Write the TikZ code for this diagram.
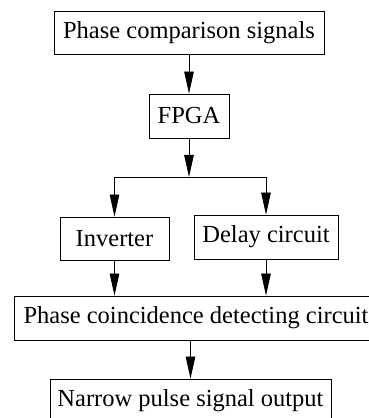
\documentclass[tikz,border=0pt]{standalone}
\usepackage{fontspec}
\setmainfont{Liberation Serif}
\usepackage{tikz}
\usetikzlibrary{arrows.meta}

\begin{document}
\begin{tikzpicture}[x=1pt,y=1pt,
    block/.style={draw,line width=0.8pt,inner sep=0pt,
      font=\fontsize{24.5}{28}\selectfont},
    flow/.style={line width=0.8pt,-{Triangle[length=22pt,width=9.5pt]}}]
  \useasboundingbox (0,0) rectangle (369,418);
  \node[block,minimum width=270,minimum height=43] (sig)
    at (189,385.5) {Phase comparison signals};
  \node[block,minimum width=80,minimum height=44] (fpga)
    at (189,302) {FPGA};
  \node[block,minimum width=109,minimum height=43] (inv)
    at (114.5,179.5) {Inverter};
  \node[block,minimum width=144,minimum height=44] (delay)
    at (266,181) {Delay circuit};
  \node[block,minimum width=364,minimum height=44] (pcd)
    at (196,100) {Phase coincidence detecting circuit};
  \node[block,minimum width=281,minimum height=44] (out)
    at (190.5,17) {Narrow pulse signal output};
  \coordinate (split) at (189,241);
  \coordinate (splitL) at (inv.north |- split);
  \coordinate (splitR) at (delay.north |- split);
  % signal path
  \draw[flow]
    (sig)
    --
    (fpga);
  \draw[flow]
    (fpga)
    --
    (split);
  \draw[line width=0.8pt]
    (splitL)
    --
    (splitR);
  \draw[flow]
    (splitL)
    --
    (inv);
  \draw[flow]
    (splitR)
    --
    (delay);
  \draw[flow]
    (inv)
    --
    (inv |- pcd.north);
  \draw[flow]
    (delay)
    --
    (delay |- pcd.north);
  \draw[flow]
    (pcd.south -| out.north)
    --
    (out);
\end{tikzpicture}
\end{document}
